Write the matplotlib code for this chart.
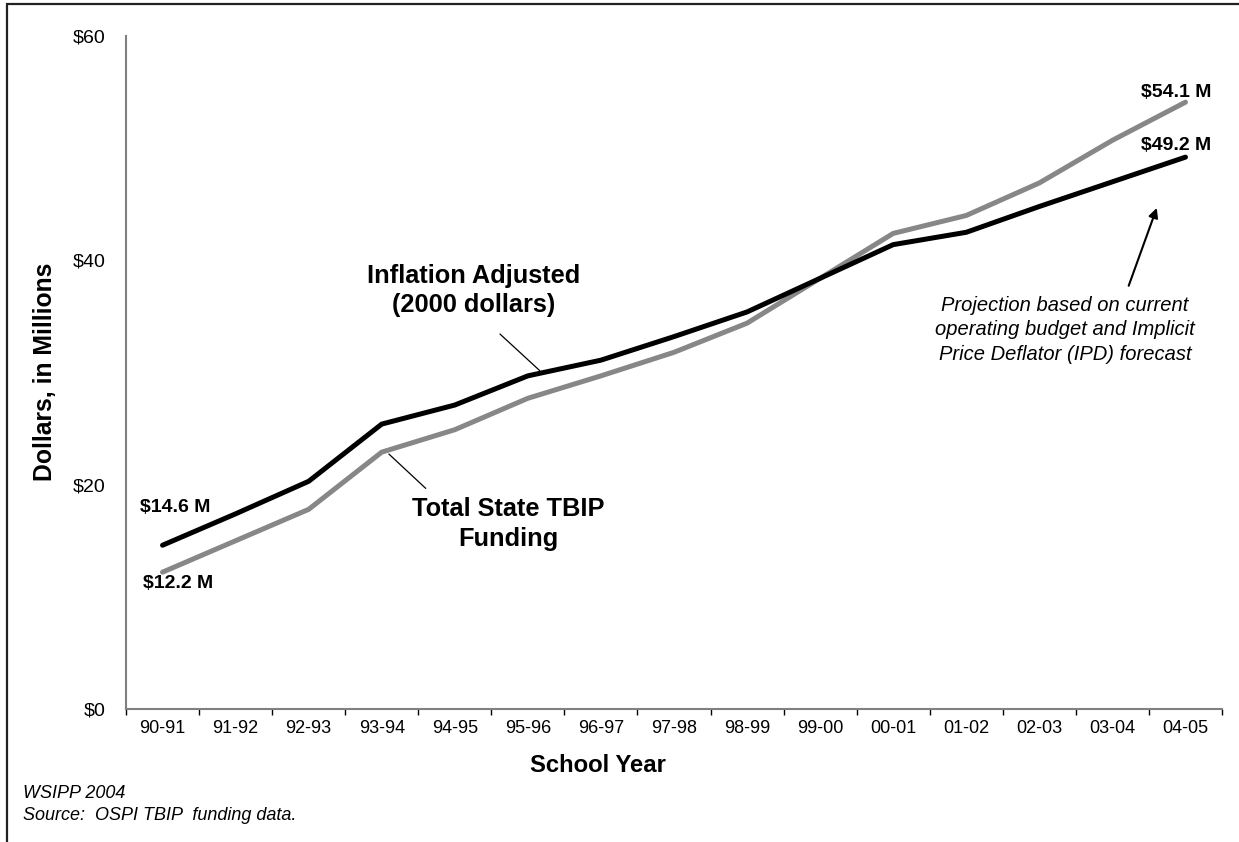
import matplotlib
matplotlib.use("Agg")
import matplotlib.pyplot as plt
from matplotlib.patches import Rectangle

plt.rcParams['font.family'] = ['Liberation Sans', 'DejaVu Sans']

# === Veriler ===
years = ["90-91", "91-92", "92-93", "93-94", "94-95", "95-96", "96-97", "97-98",
         "98-99", "99-00", "00-01", "01-02", "02-03", "03-04", "04-05"]
inflation_adjusted = [14.6, 17.4, 20.3, 25.4, 27.1, 29.7, 31.1, 33.2,
                      35.4, 38.4, 41.4, 42.5, 44.8, 47.0, 49.2]
total_funding = [12.2, 15.0, 17.8, 22.9, 24.9, 27.7, 29.7, 31.8,
                 34.4, 38.4, 42.4, 44.0, 46.9, 50.7, 54.1]
y_ticks = [0, 20, 40, 60]

BLACK = "#000000"
GRAY = "#878787"
AXIS = "#808080"

fig = plt.figure(figsize=(12.39, 8.42), dpi=100)
ax = fig.add_axes([126 / 1239, 1 - 709 / 842, (1222 - 126) / 1239, (709 - 36) / 842])

x = list(range(len(years)))
ax.plot(x, total_funding, color=GRAY, lw=3.6, solid_capstyle="round", solid_joinstyle="round", zorder=3)
ax.plot(x, inflation_adjusted, color=BLACK, lw=3.6, solid_capstyle="round", solid_joinstyle="round", zorder=4)

ax.set_xlim(-0.5, len(years) - 0.5)
ax.set_ylim(0, 60)

# eksenler
for side in ["top", "right"]:
    ax.spines[side].set_visible(False)
for side in ["left", "bottom"]:
    ax.spines[side].set_color(AXIS)
    ax.spines[side].set_linewidth(1.5)

ax.set_xticks([i - 0.5 for i in range(len(years) + 1)])
ax.set_xticklabels([])
ax.set_xticks(x, minor=True)
ax.set_xticklabels(years, minor=True, fontsize=13)
ax.tick_params(axis="x", which="major", direction="out", length=4, width=1, color=BLACK)
ax.tick_params(axis="x", which="minor", length=0, pad=8)

ax.set_yticks(y_ticks)
ax.set_yticklabels([f"${v}" for v in y_ticks], fontsize=14)
ax.tick_params(axis="y", length=0, pad=15)

# etiketler
ax.text(0.18, 18.0, f"${inflation_adjusted[0]:.1f} M", fontsize=14, fontweight="bold", ha="center", va="center")
ax.text(0.21, 11.2, f"${total_funding[0]:.1f} M", fontsize=14, fontweight="bold", ha="center", va="center")
ax.text(13.87, 55.0, f"${total_funding[-1]:.1f} M", fontsize=14, fontweight="bold", ha="center", va="center")
ax.text(13.87, 50.2, f"${inflation_adjusted[-1]:.1f} M", fontsize=14, fontweight="bold", ha="center", va="center")

ax.text(4.26, 37.3, "Inflation Adjusted\n(2000 dollars)", fontsize=18.3, fontweight="bold",
        ha="center", va="center", linespacing=1.3)
ax.annotate("", xy=(5.19, 30.0), xytext=(4.59, 33.6),
            arrowprops=dict(arrowstyle="-", color=BLACK, lw=0.9))

ax.text(4.73, 16.5, "Total State TBIP\nFunding", fontsize=18.3, fontweight="bold",
        ha="center", va="center", linespacing=1.3)
ax.annotate("", xy=(3.07, 22.9), xytext=(3.63, 19.5),
            arrowprops=dict(arrowstyle="-", color=BLACK, lw=0.9))

ax.text(12.35, 33.8, "Projection based on current\noperating budget and Implicit\nPrice Deflator (IPD) forecast",
        fontsize=14.5, fontstyle="italic", ha="center", va="center", linespacing=1.35)
ax.annotate("", xy=(13.62, 44.9), xytext=(13.21, 37.5),
            arrowprops=dict(arrowstyle="-|>", color=BLACK, lw=1.5, mutation_scale=14))

# eksen başlıkları
fig.text(598 / 1239, 1 - 765 / 842, "School Year", fontsize=17.2, fontweight="bold", ha="center", va="center")
fig.text(45 / 1239, 1 - 372 / 842, "Dollars, in Millions", fontsize=17.8, fontweight="bold",
         ha="center", va="center", rotation=90)

fig.text(23 / 1239, 1 - 793 / 842, "WSIPP 2004", fontsize=13, fontstyle="italic", ha="left", va="center")
fig.text(23 / 1239, 1 - 816 / 842, "Source:  OSPI TBIP  funding data.", fontsize=13, fontstyle="italic",
         ha="left", va="center")

# çerçeve
fig.patches.append(Rectangle((7 / 1239, -0.05), 1.1, 1 - 4 / 842 + 0.05, transform=fig.transFigure,
                             fill=False, edgecolor="#222222", lw=1.6))

fig.savefig("out.png", dpi=100)
